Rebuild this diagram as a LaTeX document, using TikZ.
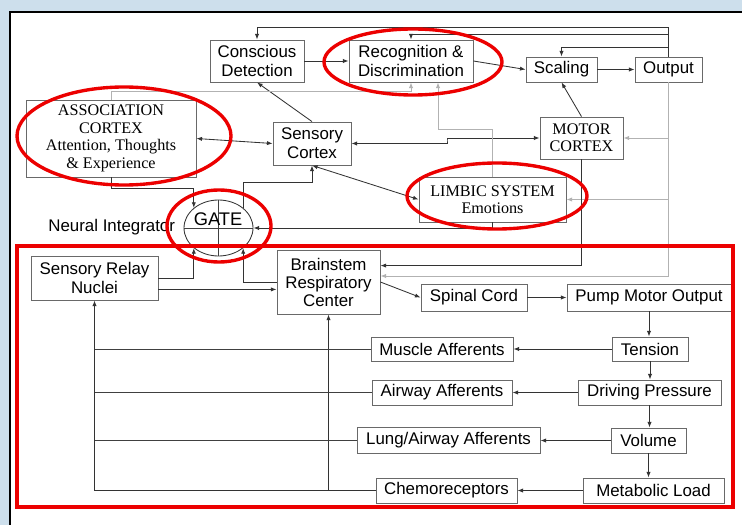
\documentclass[tikz,border=0pt]{standalone}
\usepackage{fontspec}
\setmainfont{Liberation Serif}
\setsansfont{Liberation Sans}
\usepackage{xcolor}
\usepackage{tikz}
\usetikzlibrary{calc}
\usetikzlibrary{shapes.geometric,arrows.meta}
\definecolor{bgblue}{RGB}{205,223,236}
\definecolor{boxline}{RGB}{105,105,105}
\definecolor{markred}{RGB}{236,0,0}

\tikzset{
  wh/.style 2 args={minimum width=#1*0.025cm, minimum height=#2*0.025cm},
  sbox/.style={draw=boxline, line width=0.6pt, fill=white, align=center, inner sep=0pt,
    font=\sffamily\fontsize{12}{13.5}\selectfont},
  tbox/.style={draw=boxline, line width=0.6pt, fill=white, align=center, inner sep=0pt,
    font=\rmfamily\fontsize{11.5}{12.4}\selectfont},
  arr/.style={draw=black!80, line width=0.6pt, -{Latex[length=4pt,width=3pt]}},
  darr/.style={draw=black!80, line width=0.6pt, {Latex[length=4pt,width=3pt]}-{Latex[length=4pt,width=3pt]}},
  garr/.style={draw=black!30, line width=0.6pt, -{Latex[length=4pt,width=3pt]}},
  link/.style={draw=black!75, line width=0.6pt},
  redring/.style={draw=markred, line width=2.4pt},
}

\begin{document}
\begin{tikzpicture}[x=0.025cm, y=-0.025cm]
    %PANEL
    \useasboundingbox (0,0) rectangle (742,525);
    \fill[bgblue] (0,0) rectangle (742,525);
    \fill[white] (10,12) rectangle (742,525);
    \draw[black, line width=0.8pt] (10,525) -- (10,12) -- (742,12);
    %UPPER BOXES
    \node[sbox, wh={94}{42}] (consc) at (257,61) {Conscious\\Detection};
    \node[sbox, wh={124}{42}] (recog) at (411,61) {Recognition \&\\Discrimination};
    \node[sbox, wh={71}{25}] (scal) at (561.5,69.5) {Scaling};
    \node[sbox, wh={67}{25}] (outp) at (668.5,69.5) {Output};
    \node[tbox, wh={170}{77}] (assoc) at (111,138.5) {ASSOCIATION\\CORTEX\\Attention, Thoughts\\\& Experience};
    \node[sbox, wh={78}{43}] (sens) at (312,143.5) {Sensory\\Cortex};
    \node[tbox, wh={83}{42}] (motor) at (581.5,138) {MOTOR\\CORTEX};
    \node[tbox, wh={147}{45}] (limbic) at (492.5,199.5) {LIMBIC SYSTEM\\Emotions};
    %GATE
    \node[ellipse, draw=black!80, line width=0.6pt, wh={69}{56}, inner sep=0pt] (gate) at (218.5,228) {};
    \draw[link] (gate.north) -- (gate.south);
    \draw[link] (gate.west) -- (gate.east);
    \node[font=\sffamily\fontsize{13}{14}\selectfont] (gatetxt) at (218,219) {GATE};
    \node[font=\sffamily\fontsize{12}{13}\selectfont, anchor=east] (neural) at (180,227) {Neural Integrator};
    %LOWER BOXES
    \node[sbox, wh={127}{44}] (relay) at (94.5,278) {Sensory Relay\\Nuclei};
    \node[sbox, wh={103}{64}, font=\sffamily\fontsize{12}{12.8}\selectfont] (brain) at (328.5,282) {Brainstem\\Respiratory\\Center};
    \node[sbox, wh={106}{27}] (spinal) at (474,297.5) {Spinal Cord};
    \node[sbox, wh={164}{27}] (pump) at (649,297.5) {Pump Motor Output};
    \node[sbox, wh={76}{24}] (tens) at (650,349) {Tension};
    \node[sbox, wh={143}{25}] (drive) at (649.5,392.5) {Driving Pressure};
    \node[sbox, wh={75}{25}] (vol) at (648.5,440.5) {Volume};
    \node[sbox, wh={141}{25}] (metab) at (653.5,490.5) {Metabolic Load};
    \node[sbox, wh={142}{24}] (muscle) at (442,349) {Muscle Afferents};
    \node[sbox, wh={140}{25}] (airway) at (442,392.5) {Airway Afferents};
    \node[sbox, wh={183}{26}] (lung) at (448.5,440) {Lung/Airway Afferents};
    \node[sbox, wh={141}{25}] (chemo) at (446.5,490.5) {Chemoreceptors};
    %OUTPUT FEEDBACK
    \coordinate (topA) at (668.5,27);
    \coordinate (topB) at (668.5,34);
    \coordinate (topC) at (668.5,47);
    \coordinate (fbbot) at (668.5,276);
    \draw[arr] (outp.north) -- (topA) -| (consc.north);
    \draw[arr] (topB) -| (recog.north);
    \draw[arr] (topC) -| (scal.north);
    \draw[garr] (outp.south) -- (fbbot) -- (fbbot -| brain.east);
    \draw[garr] (outp.south |- motor.east) -- (motor.east);
    \draw[garr] (outp.south |- limbic.east) -- (limbic.east);
    %UPPER LINKS
    \draw[arr] (consc) -- (recog);
    \draw[arr] (recog.east) -- (scal.west);
    \draw[arr] (scal) -- (outp);
    \draw[arr] (motor.north) -- (scal.south);
    \draw[arr] (sens.north) -- (consc.south);
    \draw[darr] (assoc.east) -- (sens.west);
    \coordinate (jog) at (447,140);
    \draw[darr] (sens.east) -| (jog) |- (motor.west);
    \draw[garr] (assoc.north) -- ++(0,-8) -| (recog.south);
    \draw[garr] (limbic.north) -- ++(0,-47) -| ($(recog.south)+(27,0)$);
    \draw[darr] (sens.south) -- (limbic.west);
    %INTO AND OUT OF GATE
    \draw[arr] (assoc.south) -- ++(0,11) -| (gate.north west);
    \draw[arr] (limbic.south) |- (gate.east);
    \draw[arr] (relay.east) -| (gate.south west);
    \draw[arr] (brain.west) -| (gate.south east);
    \draw[arr] (gate.north east) -- ++(0,-25) -| (sens.south);
    \coordinate (rb) at ($(relay.south east)+(0,-11)$);
    \draw[arr] (rb) -- (rb -| brain.west);
    \draw[arr] (motor.south) |- ($(brain.north east)+(0,16)$);
    %MOTOR CHAIN
    \draw[arr] (brain.east) -- (spinal.west);
    \draw[arr] (spinal) -- (pump);
    \draw[arr] (pump.south) -- (pump.south |- tens.north);
    \draw[arr] (tens.south) -- (tens.south |- drive.north);
    \draw[arr] (drive.south) -- (drive.south |- vol.north);
    \draw[arr] (vol.south) -- (vol.south |- metab.north);
    %AFFERENTS
    \draw[arr] (tens) -- (muscle);
    \draw[arr] (drive) -- (airway);
    \draw[arr] (vol.west) -- (vol.west -| lung.east);
    \draw[arr] (metab) -- (chemo);
    \draw[arr] (chemo.west) -| (relay.south);
    \draw[arr] (chemo.west) -| (brain.south);
    \draw[link] (muscle.west) -- (muscle.west -| relay.south);
    \draw[link] (airway.west) -- (airway.west -| relay.south);
    \draw[link] (lung.west) -- (lung.west -| relay.south);
    %RED MARKS
    \draw[redring] (124,136) ellipse [x radius=107, y radius=49];
    \draw[redring] (413,62) ellipse [x radius=89, y radius=33];
    \draw[redring] (497,196) ellipse [x radius=90, y radius=33];
    \draw[redring] (219,226) ellipse [x radius=52, y radius=36];
    \draw[markred, line width=2.8pt] (17,246) rectangle (733,507);
\end{tikzpicture}
\end{document}
